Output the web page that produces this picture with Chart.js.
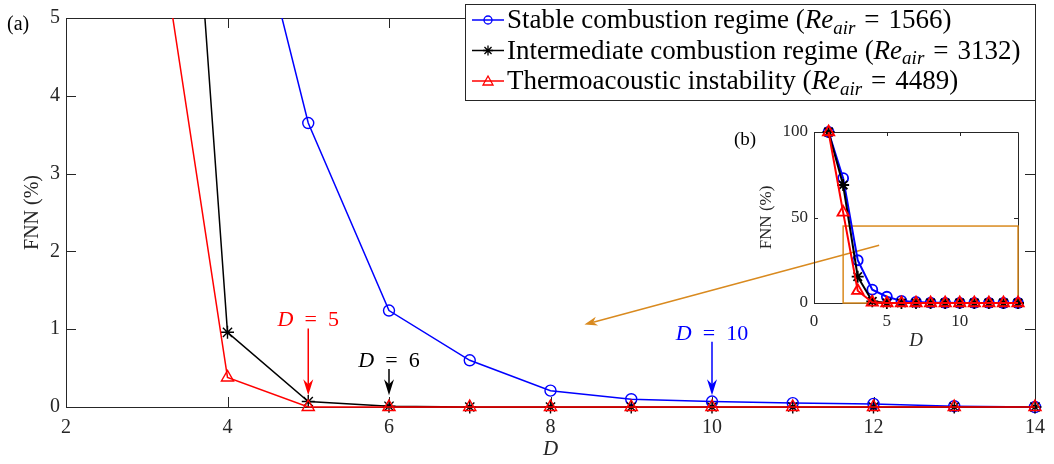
<!DOCTYPE html>
<html>
<head>
<meta charset="utf-8">
<script src="https://cdn.jsdelivr.net/npm/chart.js@4.4.1/dist/chart.umd.min.js"></script>
<style>
  html, body { margin: 0; padding: 0; background: #fff; }
  #wrap { position: relative; width: 1054px; height: 464px; }
  #mainChart { position: absolute; left: 0; top: 0; }
  #insetChart { position: absolute; left: 725px; top: 110px; }
</style>
</head>
<body>
<div id="wrap">
  <canvas id="mainChart" width="1054" height="464"></canvas>
  <canvas id="insetChart" width="305" height="245"></canvas>
</div>
<script>
// embedding dimension D and FNN (%) per regime
const dims = [1, 2, 3, 4, 5, 6, 7, 8, 9, 10, 11, 12, 13, 14];
const stableFnn = [100, 73, 25, 7.8, 3.65, 1.24, 0.6, 0.21, 0.1, 0.07, 0.05, 0.04, 0.01, 0];
const intermediateFnn = [100, 69, 15.4, 0.96, 0.07, 0.01, 0, 0, 0, 0, 0, 0, 0, 0];
const thermoFnn = [100, 53, 7.2, 0.38, 0, 0, 0, 0, 0, 0, 0, 0, 0, 0];

const seriesNames = ['Stable combustion regime', 'Intermediate combustion regime', 'Thermoacoustic instability'];
const reynolds = [1566, 3132, 4489];

const xTicksMain = [2, 4, 6, 8, 10, 12, 14];
const yTicksMain = [0, 1, 2, 3, 4, 5];
const xTicksInset = [0, 5, 10];
const yTicksInset = [0, 50, 100];

// chosen embedding dimension marked for each regime
const chosenDims = [5, 6, 10];

const SERIF = '"Liberation Serif", "DejaVu Serif", serif';
const AXIS = '#262626';
const BLUE = '#0000ff', BLACK = '#000000', RED = '#ff0000', ORANGE = '#d98a1f';
const EQ = '\u2004=\u2004';

function toPoints(vals) {
    return dims.map((d, i) => ({ x: d, y: vals[i] }));
}

function makeDatasets(lw, bw, r, clip) {
    return [
        { data: toPoints(stableFnn), borderColor: BLUE, pointBorderColor: BLUE, pointBackgroundColor: 'rgba(0,0,0,0)',
          pointStyle: 'circle', pointRadius: r, borderWidth: lw, pointBorderWidth: bw, order: 3, clip: clip },
        { data: toPoints(intermediateFnn), borderColor: BLACK, pointBorderColor: BLACK, pointBackgroundColor: 'rgba(0,0,0,0)',
          pointStyle: 'star', pointRadius: r + 1, borderWidth: lw, pointBorderWidth: bw, order: 2, clip: clip },
        { data: toPoints(thermoFnn), borderColor: RED, pointBorderColor: RED, pointBackgroundColor: 'rgba(0,0,0,0)',
          pointStyle: 'triangle', pointRadius: r + 1.5, borderWidth: lw, pointBorderWidth: bw, order: 1, clip: clip }
    ];
}

// draw text pieces: [text, style] with style '' | 'i' | 'sub'
function drawRich(ctx, parts, x, y, size, color, align) {
    const fontFor = s => s === 'sub' ? `italic ${Math.round(size * 0.7)}px ${SERIF}`
                       : (s === 'i' ? `italic ${size}px ${SERIF}` : `${size}px ${SERIF}`);
    let w = 0;
    parts.forEach(p => { ctx.font = fontFor(p[1]); w += ctx.measureText(p[0]).width; });
    let cx = align === 'center' ? x - w / 2 : x;
    ctx.fillStyle = color;
    ctx.textAlign = 'left';
    ctx.textBaseline = 'alphabetic';
    parts.forEach(p => {
        ctx.font = fontFor(p[1]);
        ctx.fillText(p[0], cx, p[1] === 'sub' ? y + size * 0.22 : y);
        cx += ctx.measureText(p[0]).width;
    });
}

function drawArrow(ctx, x1, y1, x2, y2, color, lw, headLen, headHalf) {
    const ang = Math.atan2(y2 - y1, x2 - x1);
    const cos = Math.cos(ang), sin = Math.sin(ang);
    ctx.save();
    ctx.strokeStyle = color; ctx.fillStyle = color; ctx.lineWidth = lw;
    ctx.beginPath();
    ctx.moveTo(x1, y1);
    ctx.lineTo(x2 - cos * headLen * 0.7, y2 - sin * headLen * 0.7);
    ctx.stroke();
    const bx = x2 - cos * headLen, by = y2 - sin * headLen;
    const nx = x2 - cos * headLen * 0.7, ny = y2 - sin * headLen * 0.7;
    ctx.beginPath();
    ctx.moveTo(x2, y2);
    ctx.lineTo(bx - sin * headHalf, by + cos * headHalf);
    ctx.lineTo(nx, ny);
    ctx.lineTo(bx + sin * headHalf, by - cos * headHalf);
    ctx.closePath();
    ctx.fill();
    ctx.restore();
}

function drawFrame(chart, xt, yt, len) {
    const { ctx, chartArea: a, scales: { x, y } } = chart;
    ctx.save();
    ctx.strokeStyle = AXIS;
    ctx.lineWidth = 1;
    ctx.beginPath();
    ctx.rect(Math.round(a.left) + 0.5, Math.round(a.top) + 0.5, Math.round(a.right - a.left), Math.round(a.bottom - a.top));
    xt.forEach(v => {
        const px = Math.round(x.getPixelForValue(v)) + 0.5;
        ctx.moveTo(px, a.bottom); ctx.lineTo(px, a.bottom - len);
        ctx.moveTo(px, a.top); ctx.lineTo(px, a.top + len);
    });
    yt.forEach(v => {
        const py = Math.round(y.getPixelForValue(v)) + 0.5;
        ctx.moveTo(a.left, py); ctx.lineTo(a.left + len, py);
        ctx.moveTo(a.right, py); ctx.lineTo(a.right - len, py);
    });
    ctx.stroke();
    ctx.restore();
}

function legendMarker(ctx, style, x, y, color) {
    ctx.save();
    ctx.strokeStyle = color; ctx.lineWidth = 1.3;
    ctx.beginPath();
    if (style === 'circle') {
        ctx.arc(x, y, 4, 0, Math.PI * 2);
    } else if (style === 'star') {
        for (let k = 0; k < 4; k++) {
            const a = k * Math.PI / 4;
            ctx.moveTo(x - 5 * Math.cos(a), y - 5 * Math.sin(a));
            ctx.lineTo(x + 5 * Math.cos(a), y + 5 * Math.sin(a));
        }
    } else {
        ctx.moveTo(x, y - 5); ctx.lineTo(x + 5, y + 4); ctx.lineTo(x - 5, y + 4); ctx.closePath();
    }
    ctx.stroke();
    ctx.restore();
}

const mainDecor = {
    id: 'mainDecor',
    beforeDatasetsDraw(chart) {
        drawFrame(chart, xTicksMain, yTicksMain, 10);
    },
    afterDraw(chart) {
        const { ctx, chartArea: a, scales: { x, y } } = chart;

        // arrows marking the chosen D for each regime
        const annColors = [RED, BLACK, BLUE];
        const textY = [1.04, 0.52, 0.86];
        const arrowFrom = [1.01, 0.49, 0.84];
        chosenDims.forEach((d, i) => {
            const px = x.getPixelForValue(d);
            drawRich(ctx, [['D', 'i'], ['\u2002=\u2002' + d, '']], px, y.getPixelForValue(textY[i]), 22, annColors[i], 'center');
            drawArrow(ctx, px, y.getPixelForValue(arrowFrom[i]), px, y.getPixelForValue(0.15), annColors[i], 1.5, 16, 5);
        });

        // orange arrow from the inset zoom box
        drawArrow(ctx, x.getPixelForValue(12.07), y.getPixelForValue(2.08),
                  x.getPixelForValue(8.42), y.getPixelForValue(1.06), ORANGE, 1.5, 13, 4.5);

        // axis titles and panel tag
        ctx.save();
        ctx.translate(33, (a.top + a.bottom) / 2);
        ctx.rotate(-Math.PI / 2);
        ctx.font = `20px ${SERIF}`;
        ctx.fillStyle = AXIS; ctx.textAlign = 'center'; ctx.textBaseline = 'middle';
        ctx.fillText('FNN (%)', 0, 0);
        ctx.restore();
        drawRich(ctx, [['D', 'i']], (a.left + a.right) / 2, 455, 21, AXIS, 'center');
        drawRich(ctx, [['(a)', '']], 7, 30, 20, BLACK, 'left');

        // legend
        const lx = 465, ly = 4, lw = a.right - 465, lh = 96;
        ctx.save();
        ctx.fillStyle = '#fff';
        ctx.fillRect(lx, ly, lw, lh);
        ctx.strokeStyle = AXIS; ctx.lineWidth = 1;
        ctx.strokeRect(lx + 0.5, ly + 0.5, lw, lh);
        ctx.restore();
        const styles = ['circle', 'star', 'triangle'];
        const cols = [BLUE, BLACK, RED];
        seriesNames.forEach((name, i) => {
            const rowY = 20 + i * 30.5;
            ctx.save();
            ctx.strokeStyle = cols[i]; ctx.lineWidth = 1.5;
            ctx.beginPath(); ctx.moveTo(472, rowY); ctx.lineTo(504, rowY); ctx.stroke();
            ctx.restore();
            legendMarker(ctx, styles[i], 488, rowY, cols[i]);
            drawRich(ctx, [[name + ' (', ''], ['Re', 'i'], ['air', 'sub'], [EQ + reynolds[i] + ')', '']],
                     507, rowY + 8, 27, BLACK, 'left');
        });
    }
};

const insetDecor = {
    id: 'insetDecor',
    beforeDatasetsDraw(chart) {
        const { ctx, scales: { x, y } } = chart;
        drawFrame(chart, xTicksInset, yTicksInset, 4);
        ctx.save();
        ctx.strokeStyle = ORANGE; ctx.lineWidth = 1.5;
        const x0 = x.getPixelForValue(2), x1 = x.getPixelForValue(14);
        const y0 = y.getPixelForValue(0), y1 = y.getPixelForValue(45);
        ctx.strokeRect(x0, y1, x1 - x0, y0 - y1);
        ctx.restore();
    },
    afterDraw(chart) {
        const { ctx, chartArea: a } = chart;
        ctx.save();
        ctx.translate(42, (a.top + a.bottom) / 2);
        ctx.rotate(-Math.PI / 2);
        ctx.font = `17px ${SERIF}`;
        ctx.fillStyle = AXIS; ctx.textAlign = 'center'; ctx.textBaseline = 'middle';
        ctx.fillText('FNN (%)', 0, 0);
        ctx.restore();
        drawRich(ctx, [['D', 'i']], (a.left + a.right) / 2, 236, 19, AXIS, 'center');
        drawRich(ctx, [['(b)', '']], 9, 35, 19, BLACK, 'left');
    }
};

new Chart(document.getElementById('mainChart'), {
    type: 'line',
    data: { datasets: makeDatasets(1.5, 1.4, 5.5, { left: 0, top: 0, right: 10, bottom: 10 }) },
    options: {
        responsive: false, animation: false, devicePixelRatio: 1,
        layout: { padding: { top: 12, right: 11, left: 0, bottom: 0 } },
        plugins: { legend: { display: false }, tooltip: { enabled: false } },
        scales: {
            x: {
                type: 'linear', min: 2, max: 14,
                grid: { display: false, drawTicks: false }, border: { display: false },
                ticks: { padding: 9, color: AXIS, font: { family: SERIF, size: 20 } },
                afterBuildTicks: s => { s.ticks = xTicksMain.map(v => ({ value: v })); },
                afterFit: s => { s.height = 57; }
            },
            y: {
                type: 'linear', min: 0, max: 5,
                grid: { display: false, drawTicks: false }, border: { display: false },
                ticks: { padding: 6, color: AXIS, font: { family: SERIF, size: 20 } },
                afterBuildTicks: s => { s.ticks = yTicksMain.map(v => ({ value: v })); },
                afterFit: s => { s.width = 66; }
            }
        }
    },
    plugins: [mainDecor]
});

new Chart(document.getElementById('insetChart'), {
    type: 'line',
    data: { datasets: makeDatasets(2, 1.8, 5, false) },
    options: {
        responsive: false, animation: false, devicePixelRatio: 1,
        layout: { padding: { top: 22, right: 12, left: 0, bottom: 0 } },
        plugins: { legend: { display: false }, tooltip: { enabled: false } },
        scales: {
            x: {
                type: 'linear', min: 0, max: 14,
                grid: { display: false, drawTicks: false }, border: { display: false },
                ticks: { padding: 8, color: AXIS, font: { family: SERIF, size: 17 } },
                afterBuildTicks: s => { s.ticks = xTicksInset.map(v => ({ value: v })); },
                afterFit: s => { s.height = 52; }
            },
            y: {
                type: 'linear', min: 0, max: 100,
                grid: { display: false, drawTicks: false }, border: { display: false },
                ticks: { padding: 6, color: AXIS, font: { family: SERIF, size: 17 } },
                afterBuildTicks: s => { s.ticks = yTicksInset.map(v => ({ value: v })); },
                afterFit: s => { s.width = 89; }
            }
        }
    },
    plugins: [insetDecor]
});
</script>
</body>
</html>
